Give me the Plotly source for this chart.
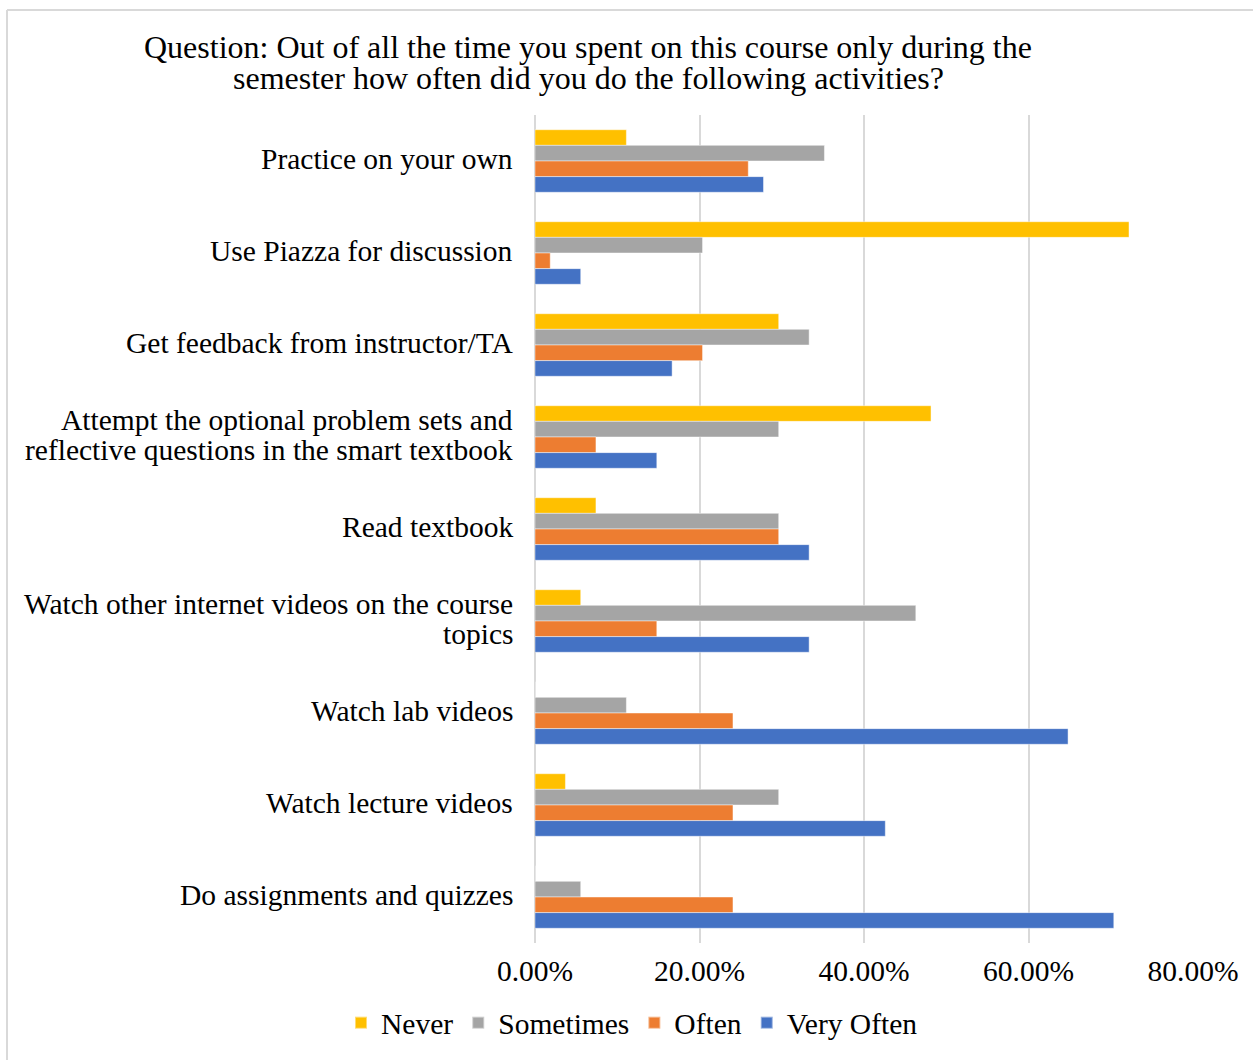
import plotly.graph_objects as go

# Activities, listed top to bottom as they appear on the chart
activities = [
    "Practice on your own",
    "Use Piazza for discussion",
    "Get feedback from instructor/TA",
    "Attempt the optional problem sets and\nreflective questions in the smart textbook",
    "Read textbook",
    "Watch other internet videos on the course\ntopics",
    "Watch lab videos",
    "Watch lecture videos",
    "Do assignments and quizzes",
]

# Share of respondents per answer (fractions), same order as activities
never      = [0.1111, 0.7222, 0.2963, 0.4815, 0.0741, 0.0556, 0.0,    0.0370, 0.0]
sometimes  = [0.3519, 0.2037, 0.3333, 0.2963, 0.2963, 0.4630, 0.1111, 0.2963, 0.0556]
often      = [0.2593, 0.0185, 0.2037, 0.0741, 0.2963, 0.1481, 0.2407, 0.2407, 0.2407]
very_often = [0.2778, 0.0556, 0.1667, 0.1481, 0.3333, 0.3333, 0.6481, 0.4259, 0.7037]

series_names = ["Never", "Sometimes", "Often", "Very Often"]
series_colors = ["#FFC000", "#A5A5A5", "#ED7D31", "#4472C4"]
series_values = [never, sometimes, often, very_often]

title_lines = [
    "Question: Out of all the time you spent on this course only during the",
    "semester how often did you do the following activities?",
]

x_ticks = [0.0, 0.2, 0.4, 0.6, 0.8]

FONT = "Liberation Serif"
W, H = 1253, 1060
ML, MR, MT, MB = 535, 60, 115, 117
PW, PH = W - ML - MR, H - MT - MB


def px_x(px):
    return (px - ML) / PW


def px_y(py):
    return (H - MB - py) / PH


cat_keys = [a.replace("\n", " ") for a in activities]

fig = go.Figure()
for name, color, vals in zip(series_names, series_colors, series_values):
    fig.add_trace(go.Bar(
        name=name,
        y=cat_keys,
        x=vals,
        orientation="h",
        marker=dict(color=color, line=dict(color="rgba(255,255,255,0.45)", width=1)),
    ))

annotations = []
# Category labels, centred lines, right-aligned block next to the axis
for label, key in zip(activities, cat_keys):
    lines = label.split("\n")
    n = len(lines)
    for i, line in enumerate(lines):
        shift = ((n - 1) / 2 - i) * 30 + 2
        annotations.append(dict(
            text=line, x=px_x(515), xref="paper", y=key, yref="y",
            xanchor="right", yanchor="middle", yshift=shift, showarrow=False,
            font=dict(family=FONT, size=29.5, color="#000000"),
        ))

# Two-line chart heading, set with tight line spacing
for i, line in enumerate(title_lines):
    annotations.append(dict(
        text=line, x=px_x(588), xref="paper", y=px_y(47 + 31 * i), yref="paper",
        xanchor="center", yanchor="middle", showarrow=False,
        font=dict(family=FONT, size=32, color="#000000"),
    ))

# Light frame around the chart area
border = dict(color="#D9D9D9", width=2)
shapes = [
    dict(type="line", xref="paper", yref="paper", x0=px_x(7), x1=px_x(1260),
         y0=px_y(10), y1=px_y(10), line=border),
    dict(type="line", xref="paper", yref="paper", x0=px_x(7), x1=px_x(7),
         y0=px_y(10), y1=px_y(1070), line=border),
]

fig.update_layout(
    width=W, height=H,
    margin=dict(l=ML, r=MR, t=MT, b=MB, pad=0, autoexpand=False),
    paper_bgcolor="white", plot_bgcolor="white",
    barmode="group", bargap=0.32, bargroupgap=0,
    font=dict(family=FONT, size=29.5, color="#000000"),
    annotations=annotations,
    shapes=shapes,
    legend=dict(
        orientation="h", x=px_x(632), xanchor="center", y=px_y(1023), yanchor="middle",
        font=dict(family=FONT, size=29.5), itemsizing="constant",
        traceorder="normal",
    ),
    xaxis=dict(
        range=[0, 0.8], tickvals=x_ticks, tickformat=".2%",
        showgrid=True, gridcolor="#D9D9D9", gridwidth=2,
        zeroline=True, zerolinecolor="#D9D9D9", zerolinewidth=2,
        showline=False, ticks="outside", ticklen=2, tickcolor="rgba(0,0,0,0)",
        tickfont=dict(family=FONT, size=29.5),
    ),
    yaxis=dict(
        categoryorder="array", categoryarray=cat_keys, autorange="reversed",
        showticklabels=False, showgrid=False, zeroline=False, showline=False,
    ),
)

fig.write_html("out.html")
